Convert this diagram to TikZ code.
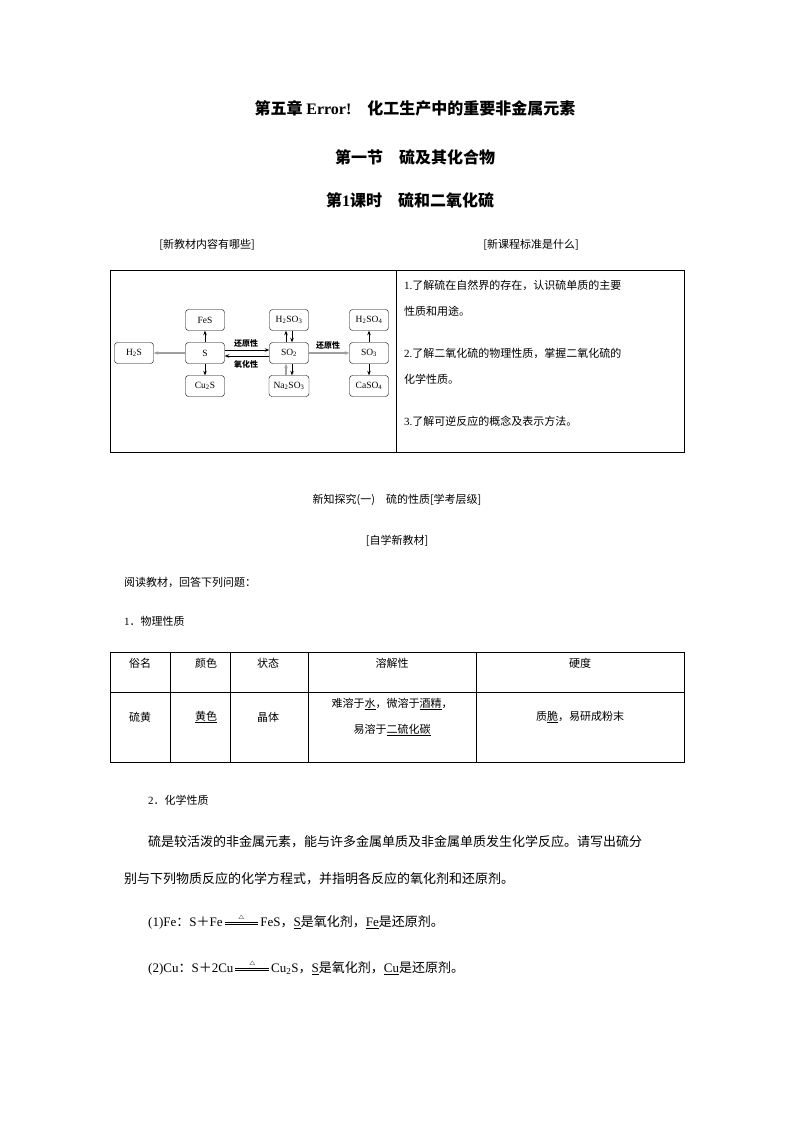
\documentclass[tikz,border=0pt]{standalone}
\usepackage{fontspec}
\setmainfont{Noto Sans CJK SC}
\newfontfamily\lat{Liberation Serif}
\usetikzlibrary{arrows.meta}
\newcommand\heat{\,\mathrel{\stackrel{\scriptscriptstyle\triangle}{\vcenter{\hrule width 2.6em height .5pt \vskip 1.6pt \hrule width 2.6em height .5pt}}}\,}
\begin{document}
\begin{tikzpicture}[x=1pt,y=-1pt,
  txt/.style={inner sep=0pt,font=\fontsize{13}{15}\selectfont},
  ttl/.style={inner sep=0pt,font=\fontsize{16}{18}\selectfont\bfseries},
  sm/.style={inner sep=0pt,font=\fontsize{11}{13}\selectfont},
  chem/.style={draw,rounded corners=3pt,minimum width=39pt,minimum height=21pt,inner sep=1pt,font=\lat\fontsize{9.5}{11}\selectfont},
  lab/.style={inner sep=0pt,font=\fontsize{8}{9}\selectfont\bfseries},
  myar/.style={-{Stealth[length=4.5pt,width=3.5pt]},line width=0.6pt},
  gar/.style={-{Stealth[length=4.5pt,width=3.5pt]},line width=1.6pt,draw=gray!75,color=gray!75},
  ln/.style={line width=0.6pt}]
\useasboundingbox (0,0) rectangle (794,1123);
\fill[white] (0,0) rectangle (794,1123);
\node[ttl] (t1) at (415,108) {第五章 {\lat Error!}　化工生产中的重要非金属元素};
\node[ttl] (t2) at (415,157) {第一节　硫及其化合物};
\node[ttl] (t3) at (410,200) {第{\lat 1}课时　硫和二氧化硫};
\node[sm] (h1) at (207,245) {[新教材内容有哪些]};
\node[sm] (h2) at (531,245) {[新课程标准是什么]};
\draw[ln] (110,270) rectangle (684,452);
\draw[ln] (396,270) -- (396,452);
\node[sm,anchor=west] (r1) at (404,285) {{\lat 1.}了解硫在自然界的存在，认识硫单质的主要};
\node[sm,anchor=west] (r2) at (404,311) {性质和用途。};
\node[sm,anchor=west] (r3) at (404,353) {{\lat 2.}了解二氧化硫的物理性质，掌握二氧化硫的};
\node[sm,anchor=west] (r4) at (404,379) {化学性质。};
\node[sm,anchor=west] (r5) at (404,421) {{\lat 3.}了解可逆反应的概念及表示方法。};
\node[chem] (FeS) at (205,320) {FeS};
\node[chem] (S) at (205,353) {S};
\node[chem] (Cu2S) at (205,386) {Cu\textsubscript{2}S};
\node[chem] (H2S) at (134,353) {H\textsubscript{2}S};
\node[chem] (H2SO3) at (289,320) {H\textsubscript{2}SO\textsubscript{3}};
\node[chem] (SO2) at (289,353) {SO\textsubscript{2}};
\node[chem,minimum width=40pt] (Na2SO3) at (289,386) {Na\textsubscript{2}SO\textsubscript{3}};
\node[chem] (H2SO4) at (369,320) {H\textsubscript{2}SO\textsubscript{4}};
\node[chem] (SO3) at (369,353) {SO\textsubscript{3}};
\node[chem] (CaSO4) at (369,386) {CaSO\textsubscript{4}};
\draw[myar] (S) -- (FeS);
\draw[myar] (S) -- (Cu2S);
\draw[gar] (S) -- (H2S);
\draw[myar] (S.east |- 350,350) -- (SO2.west |- 350,350);
\draw[myar] (SO2.west |- 356,356) -- (S.east |- 356,356);
\node[lab] (L1) at (246,343) {还原性};
\node[lab] (L2) at (246,364) {氧化性};
\draw[myar] (SO2.north -| 286,0) -- (H2SO3.south -| 286,0);
\draw[myar] (H2SO3.south -| 292,0) -- (SO2.north -| 292,0);
\draw[gar] (Na2SO3.north -| 286,0) -- (SO2.south -| 286,0);
\draw[myar] (SO2.south -| 292,0) -- (Na2SO3.north -| 292,0);
\draw[gar] (SO2) -- (SO3);
\node[lab] (L3) at (328,345) {还原性};
\draw[myar] (SO3) -- (H2SO4);
\draw[myar] (SO3) -- (CaSO4);
\node[sm] (s1) at (397,500) {新知探究(一)　硫的性质[学考层级]};
\node[sm] (s2) at (397,541) {[自学新教材]};
\node[sm,anchor=west] (s3) at (124,582) {阅读教材，回答下列问题：};
\node[sm,anchor=west] (s4) at (124,621) {{\lat 1}．物理性质};
\draw[ln] (110,652) rectangle (684,762);
\draw[ln] (110,692) -- (684,692);
\foreach \x in {170,230,308,476} \draw[ln] (\x,652) -- (\x,762);
\node[sm] (c1) at (140,663) {俗名};
\node[sm] (c2) at (206,663) {颜色};
\node[sm] (c3) at (268,663) {状态};
\node[sm] (c4) at (392,663) {溶解性};
\node[sm] (c5) at (580,663) {硬度};
\node[sm] (d1) at (140,717) {硫黄};
\node[sm] (d2) at (206,717) {\underline{黄色}};
\node[sm] (d3) at (268,717) {晶体};
\node[sm] (d4) at (392,704) {难溶于\underline{水}，微溶于\underline{酒精}，};
\node[sm] (d5) at (392,730) {易溶于\underline{二硫化碳}};
\node[sm] (d6) at (580,717) {质\underline{脆}，易研成粉末};
\node[sm,anchor=west] (p0) at (148,800) {{\lat 2}．化学性质};
\node[txt,anchor=west] (p1) at (148,842) {硫是较活泼的非金属元素，能与许多金属单质及非金属单质发生化学反应。请写出硫分};
\node[txt,anchor=west] (p2) at (124,879) {别与下列物质反应的化学方程式，并指明各反应的氧化剂和还原剂。};
\node[txt,anchor=west] (e1) at (148,922) {{\lat (1)Fe}：{\lat S}＋{\lat Fe}$\heat${\lat FeS}，\underline{\lat S}是氧化剂，\underline{\lat Fe}是还原剂。};
\node[txt,anchor=west] (e2) at (148,968) {{\lat (2)Cu}：{\lat S}＋{\lat 2Cu}$\heat${\lat Cu\textsubscript{2}S}，\underline{\lat S}是氧化剂，\underline{\lat Cu}是还原剂。};
\end{tikzpicture}
\end{document}
